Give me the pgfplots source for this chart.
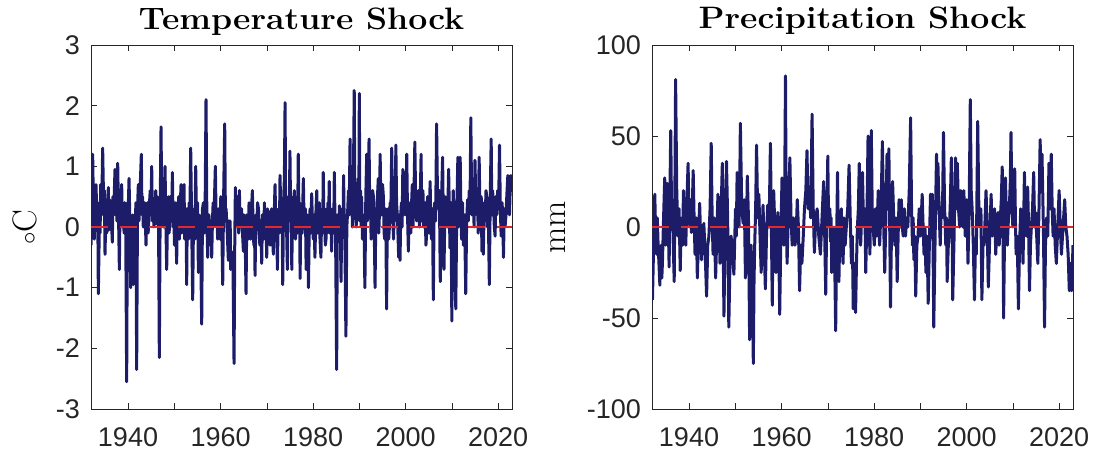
\documentclass[border=0pt]{standalone}
\usepackage{pgfplots}
\pgfplotsset{compat=1.18}
\usepackage{pgfplotstable}
\usepackage{graphicx}
\usepackage{fontspec}
\setsansfont{Liberation Sans}
\definecolor{navy}{RGB}{28,28,104}
\definecolor{axgray}{RGB}{38,38,38}
\definecolor{zred}{RGB}{225,40,45}

\pgfplotstableread{
year val
1932.00 -0.30
1932.18 0.50
1932.36 1.20
1932.55 0.20
1932.72 -0.20
1932.90 0.40
1933.08 0.70
1933.30 0.10
1933.45 0.40
1933.59 -1.10
1933.85 0.30
1933.97 -0.10
1934.09 0.70
1934.30 0.20
1934.52 1.30
1934.75 0.30
1934.90 0.60
1935.03 -0.45
1935.20 0.20
1935.40 -0.10
1935.57 0.40
1935.75 0.65
1935.88 -0.05
1936.00 0.45
1936.15 0.00
1936.30 0.40
1936.45 0.05
1936.61 -0.25
1936.75 0.50
1936.90 0.20
1937.05 0.60
1937.19 0.95
1937.32 0.20
1937.45 0.55
1937.60 0.10
1937.77 1.05
1937.95 0.20
1938.13 -0.70
1938.28 0.40
1938.40 0.10
1938.52 0.50
1938.63 0.70
1938.80 0.00
1938.99 0.30
1939.15 -0.10
1939.30 0.40
1939.50 0.10
1939.71 -2.55
1939.88 0.40
1940.00 0.20
1940.12 0.50
1940.22 0.80
1940.40 0.10
1940.58 -1.00
1940.72 0.10
1940.85 -0.20
1941.00 0.20
1941.15 -0.95
1941.32 0.00
1941.50 -0.30
1941.70 0.40
1941.87 -2.35
1942.05 0.30
1942.23 0.70
1942.37 0.10
1942.50 0.40
1942.70 0.80
1942.88 1.20
1943.02 0.20
1943.15 0.50
1943.30 0.00
1943.46 0.30
1943.65 0.40
1943.89 -0.30
1944.05 0.30
1944.20 0.40
1944.35 -0.10
1944.50 0.10
1944.65 0.40
1944.80 0.60
1944.95 0.20
1945.12 1.00
1945.27 0.10
1945.40 0.40
1945.60 0.00
1945.84 0.30
1946.00 0.60
1946.20 0.05
1946.32 0.50
1946.45 0.40
1946.60 0.10
1946.77 -2.15
1946.95 0.30
1947.14 1.65
1947.30 0.20
1947.50 0.60
1947.65 0.00
1947.80 0.40
1948.00 1.00
1948.18 0.10
1948.36 -0.70
1948.55 0.20
1948.72 0.50
1948.85 -0.10
1949.00 0.00
1949.15 0.50
1949.30 0.40
1949.45 0.10
1949.59 0.90
1949.75 0.00
1949.90 0.20
1950.05 -0.30
1950.20 0.40
1950.35 -0.10
1950.52 -0.60
1950.65 0.40
1950.80 0.20
1950.95 0.50
1951.10 -0.20
1951.28 0.30
1951.46 0.70
1951.60 -0.10
1951.75 0.10
1951.92 0.40
1952.11 0.70
1952.25 -0.20
1952.40 0.10
1952.55 0.30
1952.68 -0.95
1952.82 0.30
1952.95 0.10
1953.08 -0.20
1953.20 0.40
1953.38 0.20
1953.55 1.30
1953.75 0.10
1953.98 -1.20
1954.14 0.00
1954.30 0.30
1954.45 -0.20
1954.63 1.00
1954.77 0.30
1954.90 0.10
1955.05 0.40
1955.21 -0.75
1955.35 0.20
1955.50 0.10
1955.70 -0.30
1955.93 -1.60
1956.10 0.30
1956.30 0.40
1956.50 -0.10
1956.70 0.60
1956.86 2.10
1957.05 0.10
1957.23 -0.50
1957.38 0.20
1957.50 0.20
1957.65 -0.20
1957.80 -0.30
1957.95 0.10
1958.09 -0.50
1958.25 0.10
1958.40 0.40
1958.55 0.00
1958.70 0.50
1958.88 1.00
1959.05 0.10
1959.20 0.20
1959.38 -0.20
1959.53 0.30
1959.70 0.00
1959.90 -0.20
1960.05 0.50
1960.20 0.30
1960.33 -0.30
1960.47 -0.95
1960.65 0.40
1960.90 1.70
1961.05 0.20
1961.20 0.30
1961.45 -0.10
1961.69 -0.55
1961.82 0.10
1961.95 -0.20
1962.08 0.10
1962.20 -0.70
1962.35 -0.40
1962.50 -0.60
1962.70 -0.70
1962.92 -2.25
1963.08 -0.20
1963.21 0.65
1963.35 0.00
1963.50 0.10
1963.65 0.50
1963.80 0.40
1963.93 -0.10
1964.07 0.60
1964.22 0.10
1964.40 0.00
1964.55 0.30
1964.75 -0.10
1964.94 -0.40
1965.08 0.20
1965.20 0.10
1965.35 -0.30
1965.51 -1.10
1965.68 0.20
1965.85 0.10
1966.00 -0.20
1966.16 0.40
1966.33 0.00
1966.50 -0.20
1966.70 0.30
1966.88 0.60
1967.05 0.00
1967.20 -0.30
1967.33 0.10
1967.46 -0.80
1967.65 0.20
1967.82 -0.05
1968.00 0.40
1968.20 0.30
1968.35 -0.10
1968.50 -0.30
1968.70 0.10
1968.90 -0.60
1969.05 0.20
1969.20 0.10
1969.33 -0.20
1969.48 0.40
1969.65 0.00
1969.80 0.20
1969.98 -0.50
1970.15 0.30
1970.30 0.10
1970.43 -0.20
1970.56 0.25
1970.72 -0.30
1970.90 -0.20
1971.05 0.30
1971.20 -0.10
1971.42 -0.45
1971.60 0.20
1971.78 0.70
1971.95 0.00
1972.10 0.30
1972.29 -0.70
1972.45 0.10
1972.60 0.30
1972.72 -0.10
1972.86 0.85
1973.03 0.20
1973.20 -0.10
1973.30 0.30
1973.44 -0.95
1973.62 0.40
1973.80 0.80
1973.95 2.05
1974.08 0.10
1974.20 0.30
1974.32 -0.20
1974.45 -0.70
1974.58 0.30
1974.70 0.50
1974.85 0.10
1975.00 1.25
1975.15 0.20
1975.28 0.50
1975.40 -0.70
1975.55 0.20
1975.68 -0.10
1975.80 0.30
1975.95 0.60
1976.08 0.00
1976.20 -0.20
1976.35 0.30
1976.50 0.50
1976.65 -0.10
1976.80 1.20
1976.95 0.20
1977.08 0.40
1977.20 -0.85
1977.35 0.30
1977.50 0.20
1977.65 -0.10
1977.78 0.40
1977.90 0.80
1978.05 0.10
1978.20 0.00
1978.35 0.30
1978.50 -0.70
1978.62 0.10
1978.75 0.20
1978.88 -0.20
1979.00 -1.00
1979.18 0.00
1979.35 0.30
1979.52 -0.10
1979.70 0.55
1979.85 0.10
1980.05 -0.20
1980.20 0.20
1980.40 -0.50
1980.60 0.20
1980.80 0.60
1980.98 -0.10
1981.20 0.00
1981.35 0.40
1981.50 -0.20
1981.70 -0.50
1981.82 0.10
1981.95 0.30
1982.08 -0.10
1982.20 0.90
1982.35 0.10
1982.50 0.20
1982.65 -0.30
1982.80 -0.20
1982.95 0.30
1983.08 -0.10
1983.20 0.40
1983.35 0.10
1983.50 0.75
1983.62 -0.10
1983.75 0.10
1983.88 0.30
1984.00 -0.40
1984.15 0.10
1984.30 0.30
1984.45 -0.10
1984.60 0.90
1984.72 0.20
1984.85 0.00
1985.10 -2.35
1985.25 0.20
1985.40 0.10
1985.55 -0.20
1985.70 0.35
1985.88 0.00
1986.05 -0.90
1986.20 0.20
1986.35 0.30
1986.48 -0.10
1986.60 0.85
1986.72 0.10
1986.85 0.00
1987.10 -1.80
1987.30 0.00
1987.50 0.30
1987.65 0.60
1987.80 0.20
1988.00 1.45
1988.10 0.30
1988.20 0.40
1988.35 0.80
1988.50 0.00
1988.70 0.60
1988.90 2.25
1989.05 0.20
1989.20 0.60
1989.30 0.00
1989.40 0.10
1989.58 0.50
1989.75 0.80
1989.88 0.20
1990.00 2.20
1990.12 0.10
1990.25 0.60
1990.38 0.00
1990.50 0.50
1990.68 -0.20
1990.85 0.20
1991.03 0.00
1991.20 -1.00
1991.40 0.50
1991.60 1.20
1991.72 0.10
1991.85 0.30
1991.98 0.80
1992.10 1.45
1992.25 0.30
1992.40 0.40
1992.55 -0.20
1992.70 0.15
1992.88 0.60
1993.05 0.50
1993.22 0.00
1993.40 -1.00
1993.58 0.30
1993.75 0.20
1993.92 0.50
1994.10 0.80
1994.20 -0.10
1994.30 0.10
1994.40 0.60
1994.50 1.20
1994.68 0.20
1994.85 0.20
1995.02 0.70
1995.20 0.50
1995.35 -0.10
1995.50 -0.20
1995.70 0.30
1995.90 -1.35
1996.05 0.20
1996.20 0.30
1996.35 -0.20
1996.50 0.00
1996.65 0.40
1996.80 0.20
1997.00 1.30
1997.20 0.20
1997.40 -0.20
1997.55 0.40
1997.70 0.10
1997.90 1.35
1998.05 0.40
1998.20 0.20
1998.35 -0.10
1998.50 -0.50
1998.65 0.20
1998.80 -0.55
1998.95 0.20
1999.10 0.40
1999.25 0.00
1999.40 0.95
1999.50 0.30
1999.60 0.20
1999.75 0.60
1999.90 0.90
2000.05 0.20
2000.25 1.20
2000.42 0.20
2000.60 -0.40
2000.78 0.30
2000.95 0.40
2001.12 -0.10
2001.30 0.40
2001.45 0.70
2001.60 0.00
2001.80 0.50
2002.00 1.40
2002.20 0.30
2002.40 0.10
2002.60 0.50
2002.80 0.60
2003.00 0.00
2003.18 0.50
2003.35 1.20
2003.48 0.10
2003.60 0.30
2003.75 0.60
2003.90 0.00
2004.05 0.20
2004.20 0.40
2004.40 -0.30
2004.60 -0.05
2004.75 0.50
2004.90 0.30
2005.10 -0.10
2005.30 0.75
2005.45 0.10
2005.60 -0.20
2005.80 0.30
2006.00 -1.20
2006.15 0.20
2006.30 0.40
2006.50 0.10
2006.70 1.70
2006.90 0.50
2007.10 0.30
2007.30 0.60
2007.50 -0.90
2007.75 0.40
2008.00 1.15
2008.15 0.10
2008.30 -0.70
2008.55 0.50
2008.80 0.30
2009.05 0.00
2009.30 0.95
2009.45 0.30
2009.60 -0.35
2009.80 0.40
2010.00 -1.55
2010.15 0.10
2010.30 0.60
2010.55 0.00
2010.85 -1.35
2011.05 0.20
2011.30 1.15
2011.42 0.00
2011.55 0.30
2011.68 0.50
2011.80 1.15
2011.95 0.30
2012.10 -0.20
2012.30 0.40
2012.50 -0.30
2012.75 0.20
2013.00 -1.10
2013.20 0.10
2013.40 0.45
2013.55 0.10
2013.75 0.60
2013.92 0.30
2014.10 1.80
2014.30 0.20
2014.50 0.30
2014.65 0.70
2014.80 0.00
2015.00 1.10
2015.20 0.30
2015.40 0.20
2015.55 0.50
2015.70 -0.10
2015.90 1.15
2016.05 0.40
2016.20 0.20
2016.35 0.50
2016.50 -0.40
2016.65 0.20
2016.80 -0.45
2017.00 0.40
2017.20 0.10
2017.38 0.60
2017.55 0.50
2017.70 0.00
2017.85 0.40
2018.10 -0.95
2018.30 0.50
2018.50 1.45
2018.65 0.20
2018.80 0.60
2019.00 0.40
2019.18 0.00
2019.35 -0.15
2019.50 0.50
2019.70 0.20
2019.90 0.60
2020.10 0.30
2020.30 1.35
2020.48 0.30
2020.65 -0.15
2020.85 0.40
2021.00 0.20
2021.15 -0.50
2021.35 0.30
2021.50 0.00
2021.70 0.20
2021.90 0.55
2022.10 0.85
2022.25 0.40
2022.45 0.20
2022.60 0.60
2022.75 0.85
2022.90 0.60
2023.00 0.85
}\temptable

\pgfplotstableread{
year val
1932.10 -40
1932.35 -10
1932.60 18
1932.80 -5
1933.00 -15
1933.15 5
1933.30 -8
1933.50 -20
1933.70 -32
1933.85 -15
1934.00 -10
1934.12 -28
1934.25 -20
1934.50 5
1934.75 27
1934.92 -10
1935.10 -5
1935.20 10
1935.30 24
1935.50 5
1935.70 -22
1935.88 20
1936.05 53
1936.22 10
1936.40 15
1936.60 -10
1936.80 -30
1936.95 20
1937.10 81
1937.35 20
1937.60 -5
1937.85 10
1938.10 -24
1938.25 -5
1938.40 5
1938.60 -10
1938.80 20
1939.05 5
1939.30 -10
1939.55 15
1939.80 35
1940.00 5
1940.20 0
1940.35 15
1940.50 -3
1940.70 10
1940.90 31
1941.10 5
1941.30 -15
1941.55 5
1941.80 -28
1942.05 -5
1942.30 13
1942.50 -5
1942.70 -18
1942.95 -5
1943.20 2
1943.50 -15
1943.80 -38
1944.05 -10
1944.30 -5
1944.55 10
1944.80 46
1945.00 5
1945.20 -15
1945.45 5
1945.75 -28
1946.00 -5
1946.25 18
1946.50 0
1946.70 -20
1946.95 10
1947.20 35
1947.35 0
1947.55 -49
1947.80 -5
1948.10 36
1948.35 5
1948.60 -55
1948.85 -20
1949.10 -5
1949.40 -15
1949.70 -26
1949.90 -5
1950.05 10
1950.22 -5
1950.40 30
1950.60 10
1950.80 0
1950.95 20
1951.10 57
1951.40 10
1951.70 2
1951.95 15
1952.20 -28
1952.40 -5
1952.60 28
1952.85 5
1953.10 -62
1953.25 -30
1953.40 -10
1953.65 -25
1953.90 -75
1954.05 -30
1954.20 -10
1954.40 10
1954.60 45
1954.85 5
1955.10 18
1955.35 -5
1955.60 -25
1955.80 -5
1956.00 12
1956.25 -10
1956.50 -34
1956.75 -5
1957.00 12
1957.30 0
1957.60 46
1957.80 0
1958.00 -43
1958.15 0
1958.30 20
1958.55 0
1958.80 -25
1959.00 -5
1959.20 8
1959.40 -10
1959.60 -48
1959.85 -5
1960.10 27
1960.30 5
1960.50 -10
1960.68 20
1960.85 83
1961.00 10
1961.20 -20
1961.50 10
1961.80 38
1962.05 5
1962.30 -10
1962.60 5
1962.90 -10
1963.15 -5
1963.40 15
1963.65 0
1963.90 -35
1964.15 -10
1964.40 -20
1964.70 -5
1964.95 10
1965.25 20
1965.50 42
1965.75 10
1966.00 22
1966.30 5
1966.60 62
1966.85 10
1967.10 -14
1967.40 5
1967.70 10
1968.05 -5
1968.40 -15
1968.75 5
1969.10 25
1969.30 0
1969.55 -37
1969.78 5
1970.00 39
1970.15 5
1970.30 0
1970.45 10
1970.60 -8
1970.72 5
1970.85 -25
1971.05 -5
1971.30 0
1971.50 -20
1971.70 -57
1971.90 -10
1972.10 30
1972.25 0
1972.40 -30
1972.58 -5
1972.75 0
1972.92 10
1973.10 -10
1973.30 -20
1973.50 5
1973.75 -10
1974.00 0
1974.30 10
1974.60 34
1974.85 5
1975.10 -20
1975.30 -5
1975.50 -45
1975.75 -20
1976.00 -47
1976.20 -20
1976.40 0
1976.60 10
1976.80 35
1976.95 5
1977.10 -10
1977.30 5
1977.50 30
1977.68 5
1977.85 0
1978.02 10
1978.20 -25
1978.45 5
1978.70 50
1978.90 10
1979.10 -15
1979.25 10
1979.40 53
1979.60 10
1979.80 0
1980.05 -10
1980.30 10
1980.60 -5
1980.90 20
1981.05 0
1981.20 -10
1981.50 10
1981.80 47
1982.05 5
1982.30 -25
1982.55 5
1982.80 40
1983.00 10
1983.20 43
1983.38 0
1983.55 -44
1983.78 0
1984.00 25
1984.25 5
1984.50 -10
1984.75 5
1985.00 -30
1985.20 -5
1985.40 15
1985.65 0
1985.90 15
1986.10 0
1986.30 -5
1986.55 10
1986.80 -5
1987.05 5
1987.30 0
1987.60 20
1987.90 60
1988.10 10
1988.30 -10
1988.45 5
1988.60 -18
1988.80 -5
1989.00 -38
1989.25 -10
1989.50 -5
1989.75 10
1990.00 -5
1990.20 5
1990.40 18
1990.60 0
1990.80 -15
1991.00 0
1991.20 -25
1991.45 -5
1991.70 -42
1991.95 -10
1992.20 18
1992.40 0
1992.60 18
1992.75 -10
1992.90 -55
1993.20 -5
1993.50 40
1993.65 10
1993.80 35
1994.05 10
1994.30 -10
1994.50 10
1994.70 5
1994.85 20
1995.00 52
1995.25 10
1995.50 -10
1995.65 5
1995.80 -30
1996.05 -10
1996.30 0
1996.50 15
1996.70 38
1996.85 5
1997.00 -40
1997.30 -5
1997.60 38
1997.80 10
1998.00 35
1998.25 10
1998.50 0
1998.75 20
1999.00 15
1999.20 0
1999.40 20
1999.70 -5
2000.00 15
2000.15 0
2000.30 -20
2000.55 10
2000.80 70
2001.00 20
2001.20 10
2001.45 -10
2001.70 -40
2001.90 -10
2002.10 -15
2002.25 20
2002.40 58
2002.65 10
2002.90 0
2003.10 10
2003.30 -40
2003.55 -10
2003.80 -10
2004.00 5
2004.20 20
2004.45 0
2004.70 -33
2005.00 -5
2005.30 18
2005.55 -5
2005.80 0
2006.05 10
2006.30 -15
2006.55 0
2006.80 8
2007.05 -10
2007.30 5
2007.50 15
2007.70 33
2007.85 0
2008.00 -50
2008.20 -5
2008.40 27
2008.60 5
2008.80 -10
2009.05 5
2009.30 15
2009.45 25
2009.60 52
2009.80 10
2010.00 0
2010.20 10
2010.40 32
2010.55 5
2010.70 -15
2010.95 -5
2011.20 -45
2011.45 -10
2011.70 10
2011.95 0
2012.20 -20
2012.35 5
2012.50 30
2012.70 5
2012.90 -5
2013.05 10
2013.20 22
2013.40 0
2013.60 -35
2013.80 -10
2014.00 0
2014.25 10
2014.50 30
2014.70 0
2014.90 8
2015.15 -5
2015.40 -20
2015.65 10
2015.90 48
2016.10 20
2016.30 40
2016.60 0
2016.85 -55
2017.05 -10
2017.30 5
2017.55 -5
2017.80 35
2018.05 10
2018.30 40
2018.50 10
2018.70 -5
2018.90 10
2019.15 -10
2019.40 -20
2019.70 0
2020.00 20
2020.25 0
2020.50 -15
2020.85 0
2021.20 15
2021.45 0
2021.70 -5
2021.95 -15
2022.20 -35
2022.45 -20
2022.70 -35
2023.00 -10
}\prectable

\pgfplotsset{
  shockaxis/.style={
    scale only axis,
    width=421pt, height=364pt,
    xmin=1932, xmax=2023,
    axis line style={axgray, line width=0.6pt},
    tick style={axgray, line width=0.6pt},
    major tick length=6pt,
    tick align=inside,
    xtick={1940,1950,...,2020},
    xticklabels={1940,,1960,,1980,,2000,,2020},
    /pgf/number format/assume math mode=true,
    /pgf/number format/1000 sep={},
    tick label style={font=\fontsize{27}{27}\selectfont\sffamily, text=axgray, inner sep=0pt},
    xticklabel style={anchor=north, yshift=-18pt},
    yticklabel style={anchor=east, xshift=-11pt},
    title style={at={(0.5,1)}, anchor=base, yshift=10pt, inner sep=0pt, font=\fontsize{31}{31}\selectfont\bfseries},
    ylabel style={rotate=0, anchor=base, inner sep=0pt, font=\fontsize{34}{34}\selectfont},
    clip=true,
  }
}

\begin{document}
\begin{tikzpicture}
\useasboundingbox (0,0) rectangle (1097pt,453pt);
\begin{axis}[shockaxis,
  at={(91pt,44pt)}, anchor=south west,
  ymin=-3, ymax=3, ytick={-3,-2,...,3},
  title={\scalebox{1.09}[1]{Temperature Shock}},
  ylabel={$\circ$C},
  ylabel style={at={(axis description cs:-0.1306,0.5)}},
]
\addplot[navy, line width=3pt, line join=round] table[x=year, y=val] {\temptable};
\addplot[zred, line width=1.4pt, dash pattern=on 17pt off 12pt] coordinates {(1932,0) (2023,0)};
\end{axis}
\begin{axis}[shockaxis,
  at={(652pt,44pt)}, anchor=south west,
  ymin=-100, ymax=100, ytick={-100,-50,...,100},
  title={\scalebox{1.09}[1]{Precipitation Shock}},
  ylabel={mm},
  ylabel style={at={(axis description cs:-0.2043,0.5)}},
]
\addplot[navy, line width=3pt, line join=round] table[x=year, y=val] {\prectable};
\addplot[zred, line width=1.4pt, dash pattern=on 17pt off 12pt] coordinates {(1932,0) (2023,0)};
\end{axis}
\end{tikzpicture}
\end{document}
